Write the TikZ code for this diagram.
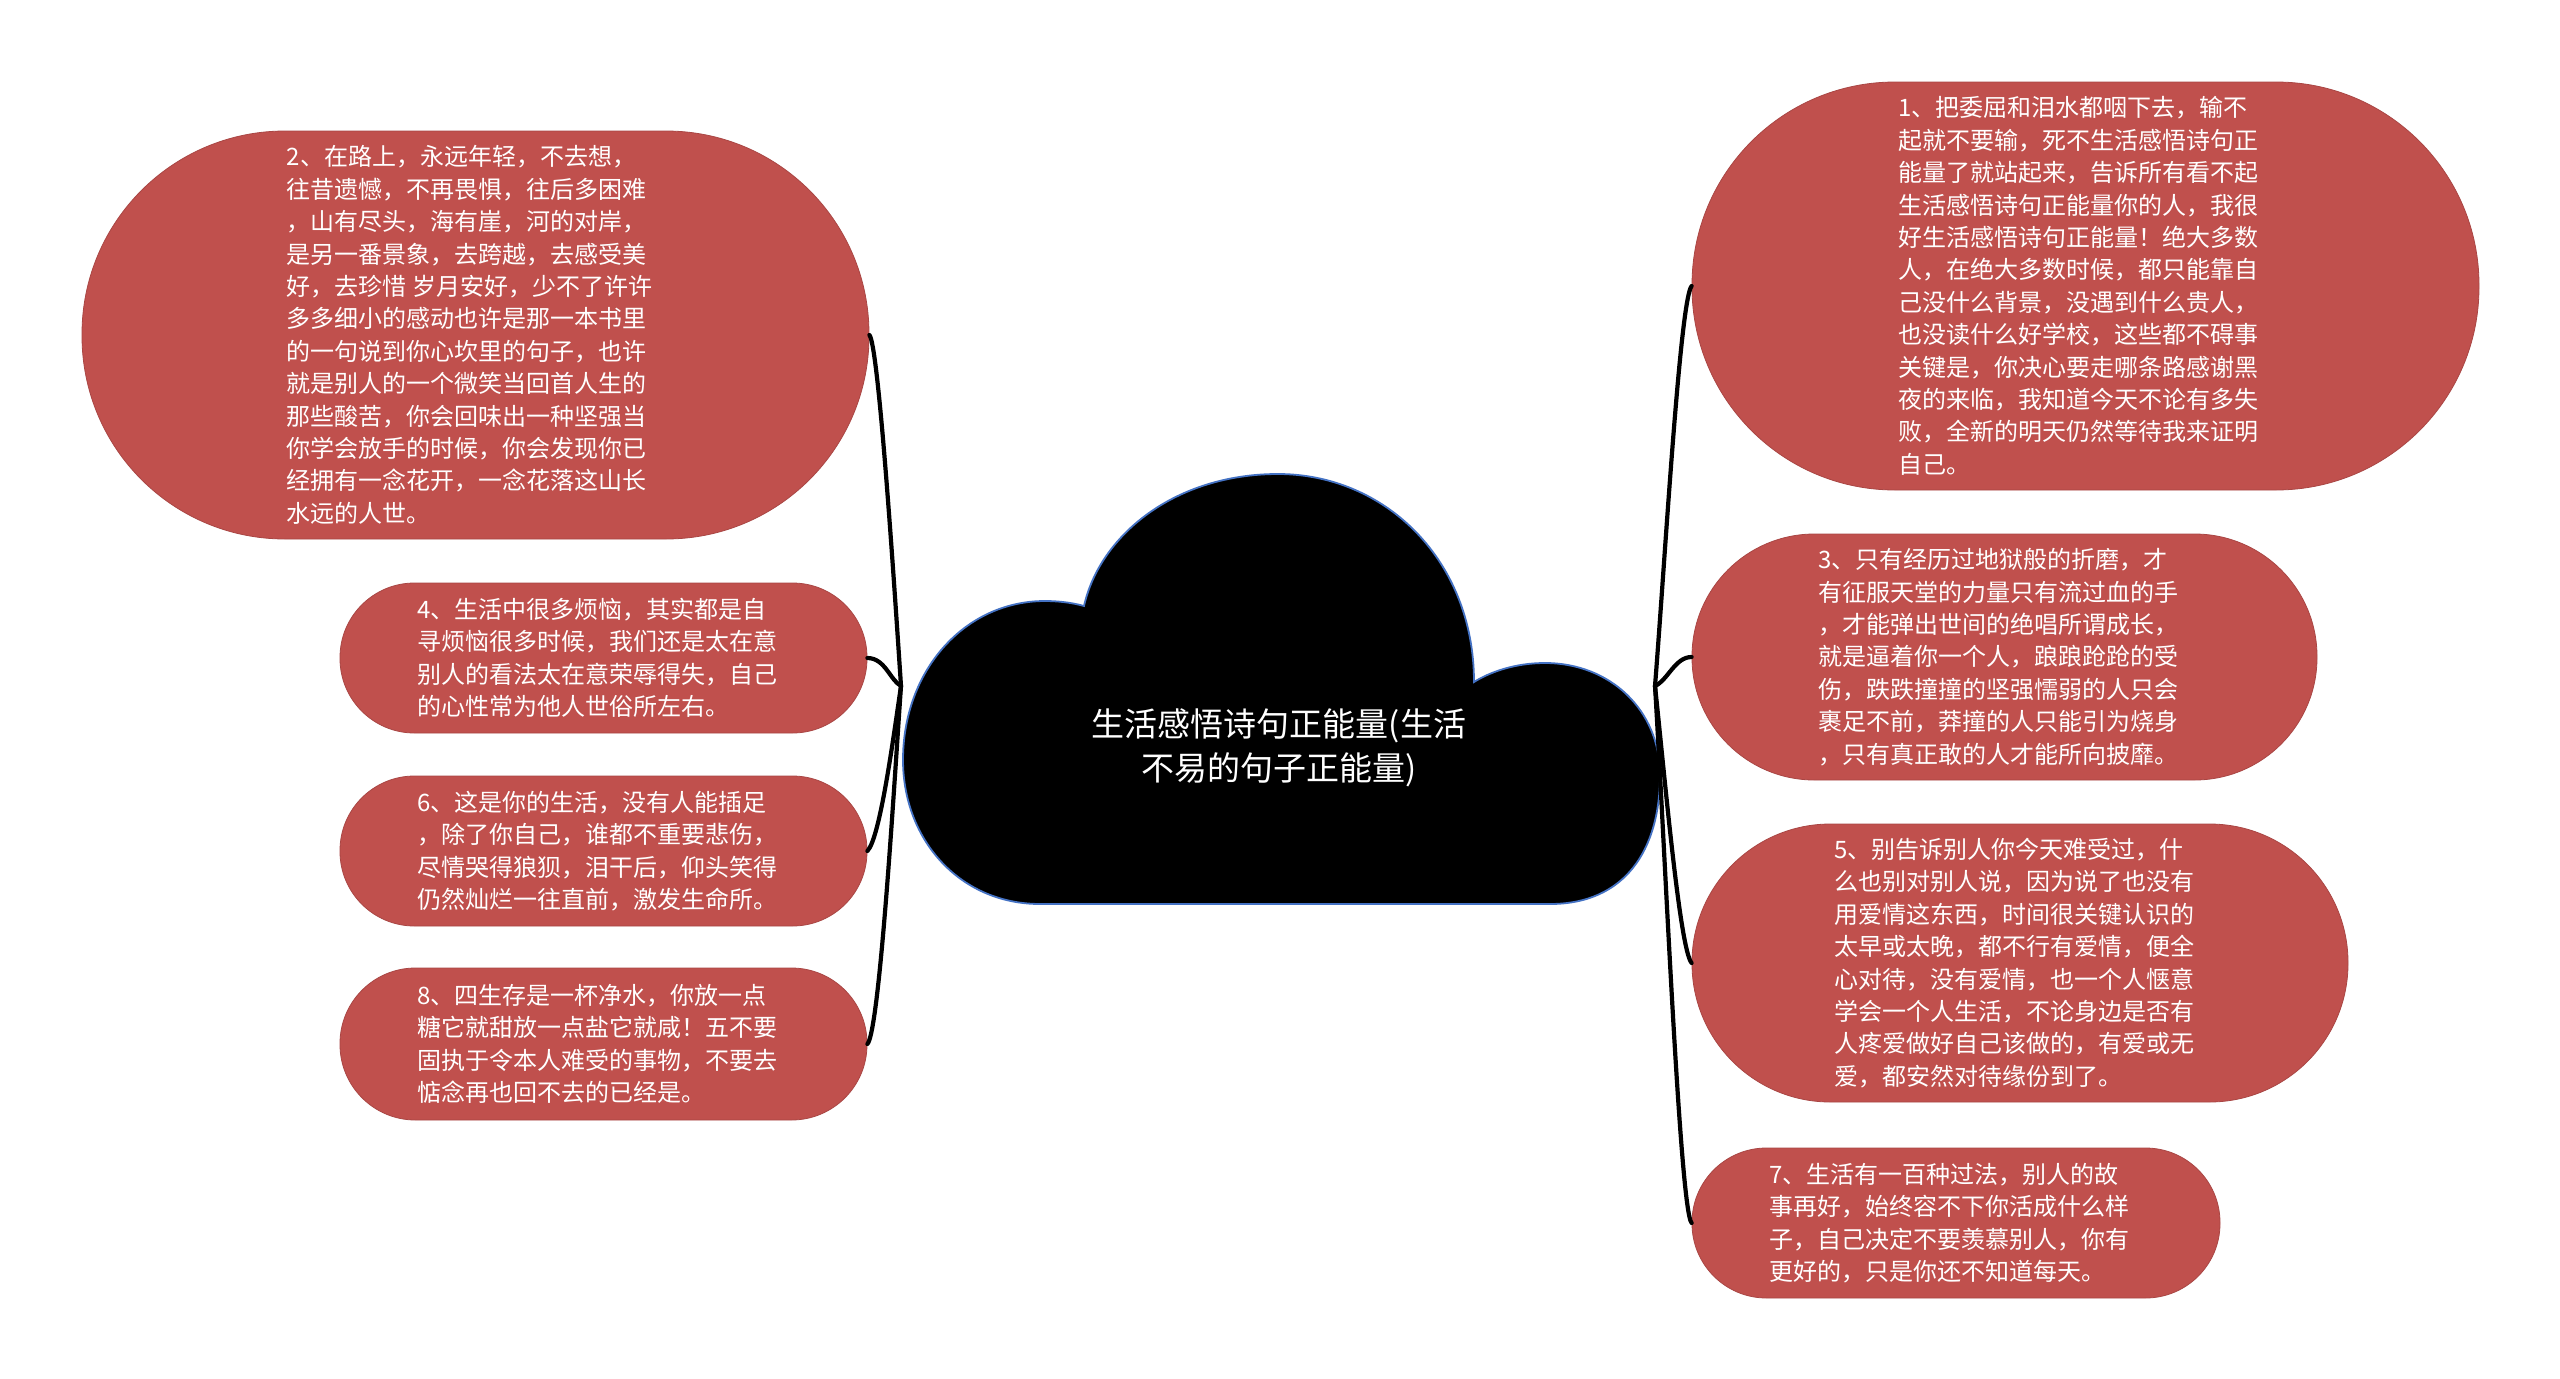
\documentclass[tikz,border=0pt]{standalone}
\usepackage{fontspec}
\newfontfamily\cjk{Noto Sans CJK SC}
\definecolor{leafred}{HTML}{C0504D}
\definecolor{cloudedge}{HTML}{4472C4}
\tikzset{
  leaf/.style={fill=leafred, draw=leafred!88!black, line width=0.8pt, inner sep=0pt},
  leaftext/.style={text=white, align=left, inner sep=0pt, font=\cjk\fontsize{24}{32.4}\selectfont},
  conn/.style={draw=black, line width=4.2pt, line cap=round},
}
\begin{document}
\begin{tikzpicture}[x=1pt,y=-1pt]
\useasboundingbox (0,0) rectangle (2560,1379);
\fill[white] (0,0) rectangle (2560,1379);

% cloud
\path[fill=black, draw=cloudedge, line width=1.8pt]
  (1040,904) -- (1550,904)
  .. controls (1625,904) and (1660,850) .. (1660,775)
  .. controls (1660,710) and (1610,663) .. (1545,663)
  .. controls (1515,663) and (1490,672) .. (1474,682)
  .. controls (1474,560) and (1385,474) .. (1278,474)
  .. controls (1175,474) and (1100,535) .. (1084,606)
  .. controls (1070,602) and (1055,601) .. (1045,601)
  .. controls (965,601) and (903,670) .. (903,760)
  .. controls (903,840) and (960,904) .. (1040,904) -- cycle;
\node[text=white, align=center, inner sep=0pt, font=\cjk\fontsize{33}{44}\selectfont] (title) at (1279,748)
  {生活感悟诗句正能量(生活\\不易的句子正能量)};

\coordinate (jl) at (901,686);
\coordinate (jr) at (1655,686);

% left nodes
\node[leaf, minimum width=787pt, minimum height=408pt, rounded corners=203pt] (n2) at (475.5,335) {};
\node[leaftext] (t2) at ([xshift=-6pt]n2.center)
  {2、在路上，永远年轻，不去想，\\往昔遗憾，不再畏惧，往后多困难\\，山有尽头，海有崖，河的对岸，\\是另一番景象，去跨越，去感受美\\好，去珍惜 岁月安好，少不了许许\\多多细小的感动也许是那一本书里\\的一句说到你心坎里的句子，也许\\就是别人的一个微笑当回首人生的\\那些酸苦，你会回味出一种坚强当\\你学会放手的时候，你会发现你已\\经拥有一念花开，一念花落这山长\\水远的人世。};
\node[leaf, minimum width=527pt, minimum height=150pt, rounded corners=74.5pt] (n4) at (603.5,658) {};
\node[leaftext] (t4) at ([xshift=-6pt]n4.center)
  {4、生活中很多烦恼，其实都是自\\寻烦恼很多时候，我们还是太在意\\别人的看法太在意荣辱得失，自己\\的心性常为他人世俗所左右。};
\node[leaf, minimum width=527pt, minimum height=150pt, rounded corners=74.5pt] (n6) at (603.5,851) {};
\node[leaftext] (t6) at ([xshift=-6pt]n6.center)
  {6、这是你的生活，没有人能插足\\，除了你自己，谁都不重要悲伤，\\尽情哭得狼狈，泪干后，仰头笑得\\仍然灿烂一往直前，激发生命所。};
\node[leaf, minimum width=527pt, minimum height=152pt, rounded corners=75.5pt] (n8) at (603.5,1044) {};
\node[leaftext] (t8) at ([xshift=-6pt]n8.center)
  {8、四生存是一杯净水，你放一点\\糖它就甜放一点盐它就咸！五不要\\固执于令本人难受的事物，不要去\\惦念再也回不去的已经是。};

% right nodes
\node[leaf, minimum width=787pt, minimum height=408pt, rounded corners=203pt] (n1) at (2085.5,286) {};
\node[leaftext] (t1) at ([xshift=-7pt]n1.center)
  {1、把委屈和泪水都咽下去，输不\\起就不要输，死不生活感悟诗句正\\能量了就站起来，告诉所有看不起\\生活感悟诗句正能量你的人，我很\\好生活感悟诗句正能量！绝大多数\\人，在绝大多数时候，都只能靠自\\己没什么背景，没遇到什么贵人，\\也没读什么好学校，这些都不碍事\\关键是，你决心要走哪条路感谢黑\\夜的来临，我知道今天不论有多失\\败，全新的明天仍然等待我来证明\\自己。};
\node[leaf, minimum width=625pt, minimum height=246pt, rounded corners=122.5pt] (n3) at (2004.5,657) {};
\node[leaftext] (t3) at ([xshift=-6pt]n3.center)
  {3、只有经历过地狱般的折磨，才\\有征服天堂的力量只有流过血的手\\，才能弹出世间的绝唱所谓成长，\\就是逼着你一个人，踉踉跄跄的受\\伤，跌跌撞撞的坚强懦弱的人只会\\裹足不前，莽撞的人只能引为烧身\\，只有真正敢的人才能所向披靡。};
\node[leaf, minimum width=656pt, minimum height=278pt, rounded corners=138.5pt] (n5) at (2020,963) {};
\node[leaftext] (t5) at ([xshift=-6pt]n5.center)
  {5、别告诉别人你今天难受过，什\\么也别对别人说，因为说了也没有\\用爱情这东西，时间很关键认识的\\太早或太晚，都不行有爱情，便全\\心对待，没有爱情，也一个人惬意\\学会一个人生活，不论身边是否有\\人疼爱做好自己该做的，有爱或无\\爱，都安然对待缘份到了。};
\node[leaf, minimum width=528pt, minimum height=150pt, rounded corners=74.5pt] (n7) at (1956,1223) {};
\node[leaftext] (t7) at ([xshift=-7pt]n7.center)
  {7、生活有一百种过法，别人的故\\事再好，始终容不下你活成什么样\\子，自己决定不要羡慕别人，你有\\更好的，只是你还不知道每天。};

% connectors
\draw[conn] (jl) .. controls (892,550) and (878,345) .. (n2.east);
\draw[conn] (jl) .. controls (890,680) and (885,658) .. (n4.east);
\draw[conn] (jl) .. controls (893,740) and (880,838) .. (n6.east);
\draw[conn] (jl) .. controls (895,770) and (880,1030) .. (n8.east);
\draw[conn] (jr) .. controls (1665,560) and (1680,300) .. (n1.west);
\draw[conn] (jr) .. controls (1668,680) and (1675,657) .. (n3.west);
\draw[conn] (jr) .. controls (1665,780) and (1680,950) .. (n5.west);
\draw[conn] (jr) .. controls (1665,850) and (1680,1210) .. (n7.west);
\end{tikzpicture}
\end{document}
